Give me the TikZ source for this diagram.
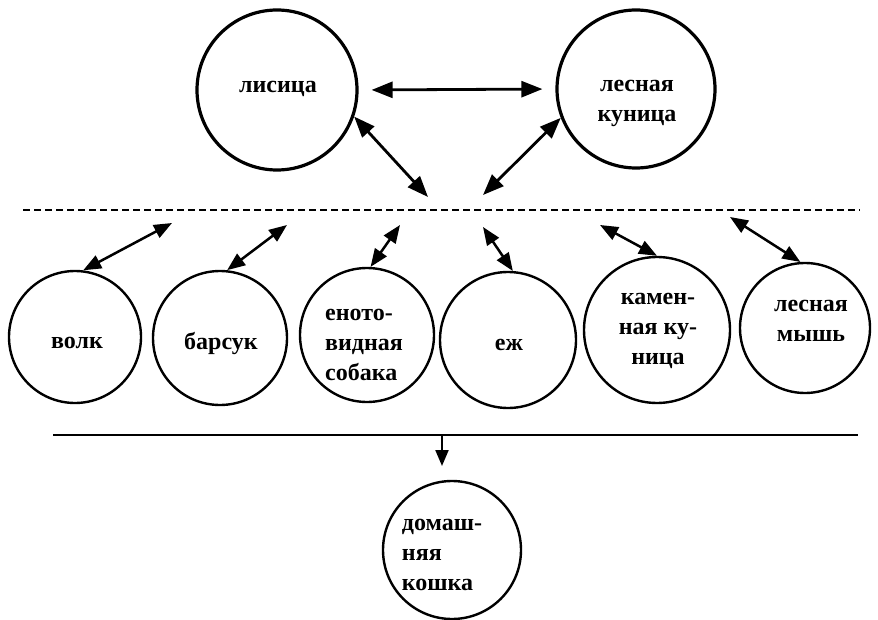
\documentclass[tikz,border=0pt]{standalone}
\usepackage{fontspec}
\setmainfont{Liberation Serif}
\usetikzlibrary{arrows.meta}
\begin{document}
\begin{tikzpicture}[x=1pt,y=-1pt,
  circ/.style={circle,draw,line width=2.4pt,inner sep=0pt},
  bigcirc/.style={circ,line width=3.2pt},
  lbl/.style={font=\bfseries\fontsize{24}{30}\selectfont,align=center,inner sep=0pt},
  lbll/.style={lbl,align=left},
  arr/.style={line width=2.8pt,{Triangle[length=21pt,width=16pt]}-{Triangle[length=21pt,width=16pt]}},
  smallarr/.style={line width=2.5pt,{Triangle[length=18pt,width=14pt]}-{Triangle[length=18pt,width=14pt]}},
  downarr/.style={line width=2.2pt,-{Triangle[length=16pt,width=13pt]}},
  sepline/.style={line width=2.4pt},
  dashline/.style={line width=2pt,dash pattern=on 7pt off 4pt},
]
\useasboundingbox (0,0) rectangle (878,620);

% top circles
\node[bigcirc,minimum size=160pt] (fox) at (277,90) {};
\node[lbl] (foxt) at (278,89) {лисица};
\node[bigcirc,minimum size=158pt] (marten) at (636,89) {};
\node[lbl] (martent) at (637,103) {лесная\\куница};

% separator lines
\coordinate (dl) at (23,210);
\coordinate (dr) at (860,210);
\draw[dashline] (dl) -- (dr);
\coordinate (sl) at (53,435);
\coordinate (sr) at (858,435);
\draw[sepline] (sl) -- (sr);

% row circles
\node[circ,minimum size=132pt] (wolf) at (75,337) {};
\node[lbl] (wolft) at (77,343) {волк};
\node[circ,minimum size=134pt] (badger) at (220,338) {};
\node[lbl] (badgert) at (221,343) {барсук};
\node[circ,minimum size=134pt] (raccoon) at (367,335) {};
\node[lbll] (raccoont) at (364,345) {еното-\\видная\\собака};
\node[circ,minimum size=136pt] (hedgehog) at (508,340) {};
\node[lbl] (hedgehogt) at (509,345) {еж};
\node[circ,minimum size=146pt] (stone) at (657,330) {};
\node[lbl] (stonet) at (658,331) {камен-\\ная ку-\\ница};
\node[circ,minimum size=130pt] (mouse) at (805,328) {};
\node[lbl] (mouset) at (811,321) {лесная\\мышь};
\node[circ,minimum size=138pt] (cat) at (452,550) {};
\node[lbll] (catt) at (442,555) {домаш-\\няя\\кошка};

% top arrows
\draw[arr,shorten <=13pt,shorten >=13pt] (fox.east) -- (marten.west);
\coordinate (t1) at (428,197);
\coordinate (t2) at (483,195);
\draw[arr] (fox.-19) -- (t1);
\draw[arr] (marten.-159) -- (t2);

% lower arrows
\coordinate (w1) at (172,223);
\coordinate (b1) at (287,225);
\coordinate (r1) at (400,225);
\coordinate (h1) at (483,227);
\coordinate (s1) at (600,225);
\coordinate (m1) at (730,217);
\draw[smallarr] (wolf.83) -- (w1);
\draw[smallarr] (badger.84) -- (b1);
\draw[smallarr] (raccoon.87) -- (r1);
\draw[smallarr] (hedgehog.86) -- (h1);
\draw[smallarr] (stone.90) -- (s1);
\draw[smallarr] (mouse.94) -- (m1);

% down arrow
\coordinate (jt) at (442,435);
\coordinate (jb) at (442,466);
\draw[downarr] (jt) -- (jb);
\end{tikzpicture}
\end{document}
